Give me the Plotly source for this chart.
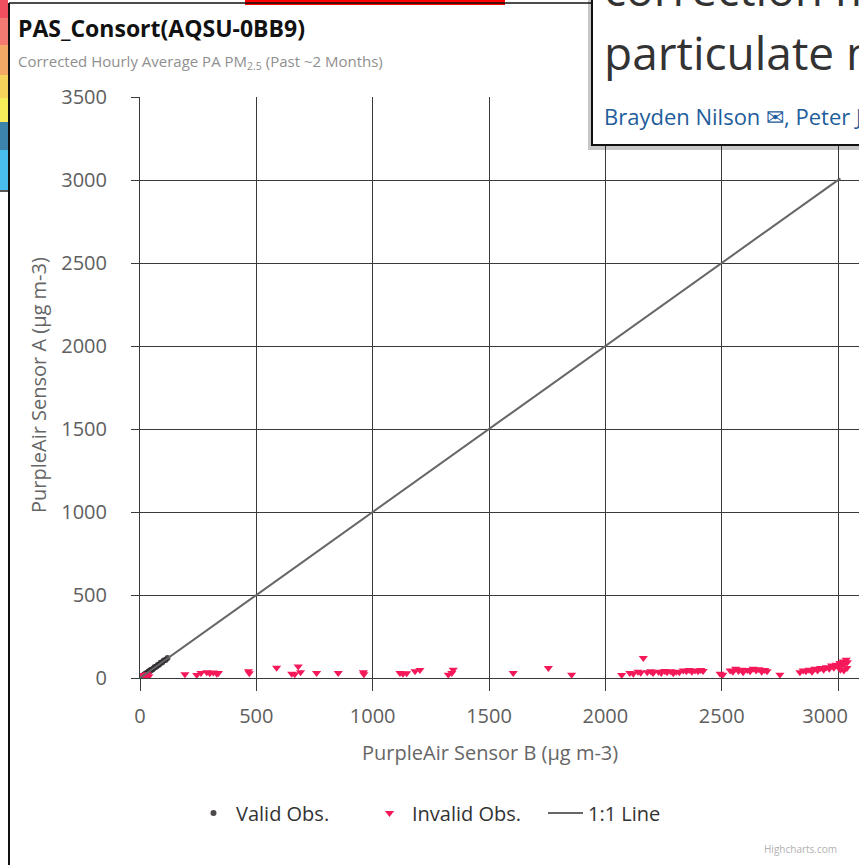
import plotly.graph_objects as go

# ---------------- data ----------------
valid_x = [2, 4, 6, 8, 10, 12, 15, 18, 20, 23, 26, 30, 34, 38, 42, 47, 52, 58, 63, 70, 76, 82, 88, 95, 102, 110, 118]
valid_y = [3, 5, 5, 9, 11, 14, 16, 17, 22, 24, 27, 31, 33, 40, 41, 49, 50, 57, 66, 68, 79, 80, 92, 94, 105, 108, 121]

invalid_x = [3, 8, 12, 18, 25, 32, 38,
             193, 244, 262, 287, 300, 315, 330, 337, 466, 470, 587, 652, 665, 680, 690,
             759, 852, 960, 962, 1117, 1130, 1146, 1182, 1203, 1325, 1340, 1346,
             1604, 1755, 1855,
             2070, 2105, 2120, 2140, 2152, 2163, 2180, 2195, 2205, 2228, 2240, 2255, 2265,
             2280, 2292, 2305, 2318, 2335, 2348, 2360, 2372, 2385, 2398, 2410, 2420,
             2493, 2505, 2536, 2548, 2560, 2572, 2585, 2592, 2610, 2622, 2635, 2648, 2660,
             2672, 2685, 2695, 2750,
             2836, 2850, 2862, 2875, 2888, 2900, 2912, 2925, 2938, 2950, 2962, 2972, 2982,
             2992, 3000, 3008, 3015, 3022, 3028, 3035, 3040, 3038, 3025, 3010]
invalid_y = [5, 12, 3, 18, 8, 22, 10,
             22, 18, 30, 35, 28, 33, 25, 30, 40, 28, 62, 25, 22, 70, 35,
             30, 30, 35, 22, 30, 25, 28, 40, 48, 20, 30, 50,
             30, 60, 20,
             18, 30, 25, 38, 32, 120, 35, 40, 30, 38, 30, 42, 35,
             40, 28, 38, 35, 45, 40, 48, 38, 45, 40, 48, 42,
             25, 20, 45, 38, 55, 42, 50, 35, 48, 40, 55, 45, 52,
             38, 48, 40, 20,
             35, 45, 40, 50, 38, 55, 45, 60, 50, 65, 55, 75, 62,
             80, 70, 90, 75, 100, 85, 110, 95, 60, 45, 50]

line_x = [0, 3010]
line_y = [0, 3010]

x_ticks = [0, 500, 1000, 1500, 2000, 2500, 3000]
x_tick_labels = ["0", "500", "1000", "1500", "2000", "2500", "3000"]
y_ticks = [0, 500, 1000, 1500, 2000, 2500, 3000, 3500]

title_text = "PAS_Consort(AQSU-0BB9)"
subtitle_text = "Corrected Hourly Average PA PM<sub>2.5</sub> (Past ~2 Months)"
x_title = "PurpleAir Sensor B (µg m-3)"
y_title = "PurpleAir Sensor A (µg m-3)"

# ---------------- layout helpers (window pixel -> paper) ----------------
W, H = 859, 865
PL, PT = 140, 97
PB = H - 678
PR = 0
PW, PH = W - PL - PR, H - PT - PB


def px(x):
    return (x - PL) / PW


def py(y):
    return (H - PB - y) / PH


FONT = "Open Sans, Noto Sans, sans-serif"

# the last x label is pulled inside the chart edge (as the original renderer does)
x_tick_text = x_tick_labels[:-1] + [x_tick_labels[-1] + "\u00a0" * 5]

fig = go.Figure()
fig.add_trace(go.Scatter(
    x=valid_x, y=valid_y, mode="markers", name="Valid Obs.",
    marker=dict(symbol="circle", size=6, color="rgba(45,40,45,0.85)"),
))
fig.add_trace(go.Scatter(
    x=invalid_x, y=invalid_y, mode="markers", name="Invalid Obs.",
    marker=dict(symbol="triangle-down", size=8, color="#f5195a"),
))
fig.add_trace(go.Scatter(
    x=line_x, y=line_y, mode="lines", name="1:1 Line",
    line=dict(color="#666666", width=2),
))

axis_common = dict(
    showgrid=True, gridcolor="#3a3a3a", gridwidth=1,
    showline=True, linecolor="#3a3a3a", linewidth=1,
    zeroline=False, ticks="outside", tickcolor="#3a3a3a",
    tickfont=dict(family=FONT, size=20, color="#5e5e5e"),
    ticklabeloverflow="allow", automargin=False,
)

fig.update_layout(
    width=W, height=H,
    margin=dict(l=PL, r=PR, t=PT, b=PB, pad=0, autoexpand=False),
    paper_bgcolor="white", plot_bgcolor="white",
    font=dict(family=FONT, color="#444444"),
    xaxis=dict(range=[0, 3090], tickvals=x_ticks, ticktext=x_tick_text, ticklen=12,
               ticklabelstandoff=8, **axis_common),
    yaxis=dict(range=[0, 3500], tickvals=y_ticks, ticklen=8,
               ticklabelstandoff=20, **axis_common),
    showlegend=True,
    legend=dict(orientation="h", x=px(191), xanchor="left", y=py(813), yanchor="middle",
                font=dict(family=FONT, size=20, color="#333333"),
                bgcolor="rgba(0,0,0,0)", itemwidth=35, entrywidth=126),
)

annotations = [
    dict(text="<b>" + title_text + "</b>", x=px(16), y=py(28), xanchor="left", yanchor="middle",
         font=dict(family=FONT, size=23, color="#111111")),
    dict(text=subtitle_text, x=px(16), y=py(62), xanchor="left", yanchor="middle",
         font=dict(family=FONT, size=15, color="#8f8f8f")),
    dict(text=x_title, x=px(490), y=py(752), xanchor="center", yanchor="middle",
         font=dict(family=FONT, size=20, color="#666666")),
    dict(text=y_title, x=px(38), y=py(385), xanchor="center", yanchor="middle", textangle=-90,
         font=dict(family=FONT, size=20, color="#666666")),
    dict(text="Highcharts.com", x=px(800), y=py(849), xanchor="center", yanchor="middle",
         font=dict(family=FONT, size=10, color="#b0b0b0")),
    # overlapping article header
    dict(text="correction models for", x=px(602), y=py(-12), xanchor="left", yanchor="middle",
         font=dict(family=FONT, size=46, color="#333333")),
    dict(text="particulate matter", x=px(602), y=py(52), xanchor="left", yanchor="middle",
         font=dict(family=FONT, size=46, color="#333333")),
    dict(text="Brayden Nilson ✉, Peter Jackson", x=px(602), y=py(116), xanchor="left", yanchor="middle",
         font=dict(family=FONT, size=22, color="#1e5d9c")),
]
for a in annotations:
    a.update(xref="paper", yref="paper", showarrow=False)
fig.update_layout(annotations=annotations)

strip = [(0, 18, "#ef4f5f"), (18, 45, "#f27a72"), (45, 75, "#f4a866"), (75, 98, "#f6d35a"),
         (98, 122, "#f7ec5a"), (122, 150, "#3d84ad"), (150, 190, "#49bdee")]
shapes = [dict(type="rect", x0=px(0), x1=px(8), y0=py(a), y1=py(b), fillcolor=c, line=dict(width=0))
          for a, b, c in strip]
shapes += [
    dict(type="line", x0=px(0), x1=px(9), y0=py(191), y1=py(191), line=dict(color="#222222", width=1.5)),
    # red bar at top
    dict(type="rect", x0=px(245), x1=px(505), y0=py(0), y1=py(5), fillcolor="#ff0000",
         line=dict(width=0)),
    # chart panel border
    dict(type="line", x0=px(9), x1=px(9), y0=py(3), y1=py(870), line=dict(color="#111111", width=2)),
    dict(type="line", x0=px(9), x1=px(592), y0=py(3), y1=py(3), line=dict(color="#111111", width=1.5)),
    # article overlay box (shadow + box)
    dict(type="rect", x0=px(588), x1=px(870), y0=py(150), y1=py(-10), layer="above",
         fillcolor="rgba(0,0,0,0.22)", line=dict(width=0)),
    dict(type="rect", x0=px(592), x1=px(870), y0=py(145), y1=py(-10), layer="above",
         fillcolor="white", line=dict(color="#111111", width=2)),
]
for s in shapes:
    s.update(xref="paper", yref="paper")
fig.update_layout(shapes=shapes)

fig.write_html("out.html", config={"displayModeBar": False},
               post_script="document.body.style.margin='0';document.body.style.overflow='hidden';")
